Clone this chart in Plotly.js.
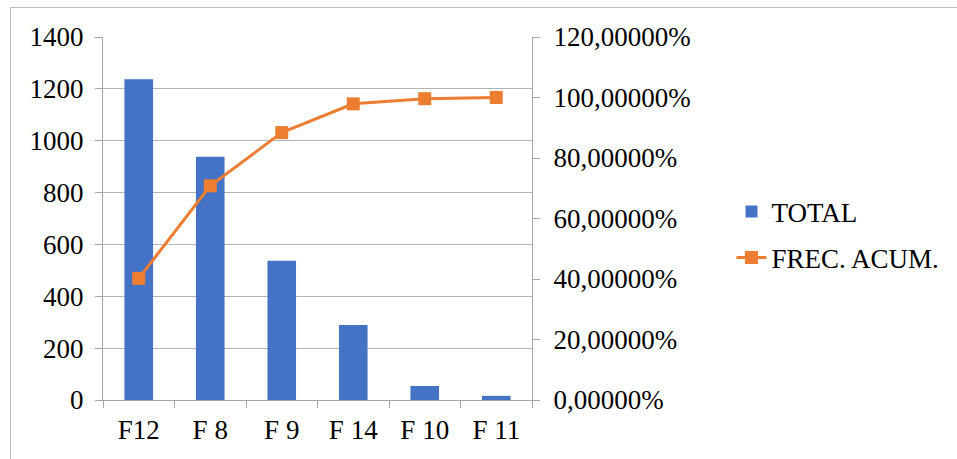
<!DOCTYPE html>
<html><head><meta charset="utf-8">
<script src="https://cdn.plot.ly/plotly-3.0.1.min.js"></script>
<style>
html,body{margin:0;padding:0;background:#fff;}
#wrap{position:relative;width:957px;height:459px;overflow:hidden;}
#chart{width:957px;height:459px;}
#frame{position:absolute;left:10px;top:7px;width:960px;height:470px;border:1px solid #bfbfbf;pointer-events:none;box-sizing:border-box;}
</style></head>
<body><div id="wrap"><div id="chart"></div><div id="frame"></div></div>
<script>
const categories = ["F12", "F 8", "F 9", "F 14", "F 10", "F 11"];
const totals = [1237, 938, 537, 289, 54, 16];
const cumPct = [0.402, 0.708, 0.884, 0.979, 0.996, 1.0];

const font = {family: 'Liberation Serif', size: 27, color: '#000'};
const gray = '#a6a6a6';

const traces = [
  {type: 'bar', name: 'TOTAL', legendgroup: 'a', x: categories, y: totals, marker: {color: '#4472C4'}, width: 0.4},
  {type: 'scatter', mode: 'lines+markers', name: 'FREC. ACUM.', legendgroup: 'b', x: categories, y: cumPct, yaxis: 'y2',
   line: {color: '#ED7D31', width: 3}, marker: {symbol: 'square', size: 13, color: '#ED7D31'}}
];

const layout = {
  width: 957, height: 459,
  margin: {l: 103, r: 425, t: 37, b: 59},
  paper_bgcolor: '#fff', plot_bgcolor: '#fff',
  font: font,
  separators: ', ',
  showlegend: true,
  legend: {x: 1.465, y: 0.455, xanchor: 'left', yanchor: 'middle', font: font, bgcolor: 'rgba(0,0,0,0)',
           traceorder: 'grouped', tracegroupgap: 8},
  xaxis: {type: 'category', showline: true, linecolor: gray, linewidth: 1, ticks: 'outside', tickson: 'boundaries',
          ticklen: 7, tickcolor: gray, showgrid: false, tickfont: font, ticklabelstandoff: 6},
  yaxis: {range: [0, 1400], dtick: 200, showline: true, linecolor: gray, ticks: 'outside', ticklen: 7, tickcolor: gray,
          showgrid: true, gridcolor: '#b3b3b3', gridwidth: 1, zeroline: false, tickfont: font, ticklabelstandoff: 6},
  yaxis2: {overlaying: 'y', side: 'right', range: [0, 1.2], dtick: 0.2, tickformat: '.5%', showline: true, linecolor: gray,
           ticks: 'outside', ticklen: 7, tickcolor: gray, showgrid: false, zeroline: false, tickfont: font, ticklabelstandoff: 8}
};

Plotly.newPlot('chart', traces, layout, {displayModeBar: false, staticPlot: true});
</script></body></html>
